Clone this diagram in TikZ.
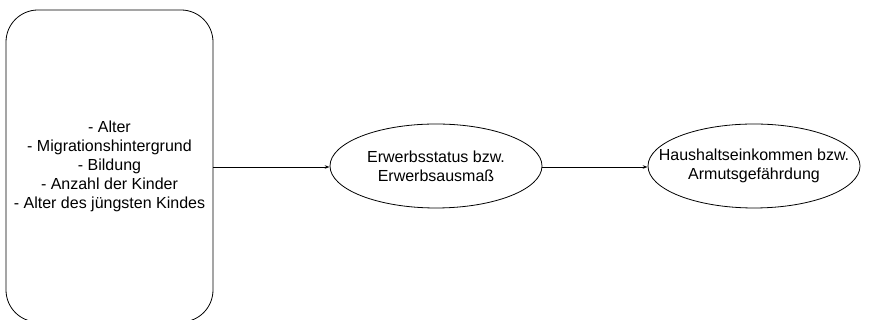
\documentclass[tikz,border=0pt]{standalone}
\usepackage{fontspec}
\setmainfont{Liberation Sans}
\usetikzlibrary{arrows.meta,shapes.geometric}
\begin{document}
\begin{tikzpicture}[x=1pt,y=1pt,
  every node/.style={font=\fontsize{16}{19}\selectfont, align=center, inner sep=0pt},
  factorbox/.style={draw, line width=0.8pt, rounded corners=32pt, minimum width=207pt, minimum height=312pt},
  oval/.style={draw, ellipse, line width=0.8pt, minimum width=212pt, minimum height=84pt},
  link/.style={line width=0.8pt, -{Stealth[length=5pt,width=3.5pt]}}]
\clip (0,0) rectangle (871,320);
\node[factorbox] (box) at (109.5,154) {};
\node (boxtext) at (109.5,153.5) {- Alter\\- Migrationshintergrund\\- Bildung\\- Anzahl der Kinder\\- Alter des jüngsten Kindes};
\node[oval] (e1) at (436,154) {};
\node (t1) at (436,154) {Erwerbsstatus bzw.\\Erwerbsausmaß};
\node[oval] (e2) at (754,154) {};
\node (t2) at (754,154) {Haushaltseinkommen bzw.\\Armutsgefährdung};
\draw[link] (box.east |- 0,153) -- (e1.west |- 0,153);
\draw[link] (e1.east |- 0,153) -- (e2.west |- 0,153);
\end{tikzpicture}
\end{document}
